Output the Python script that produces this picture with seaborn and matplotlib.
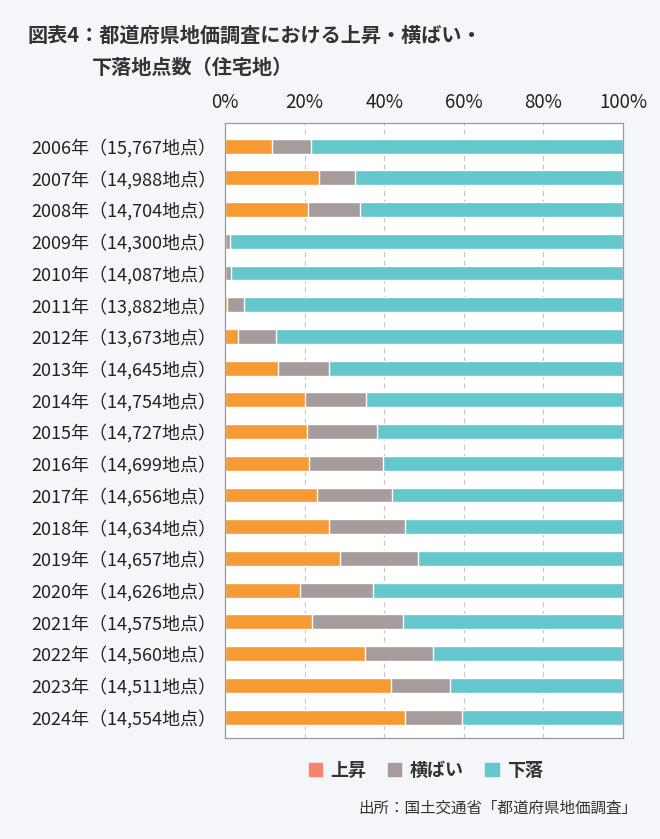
import pandas as pd
import seaborn as sns
import matplotlib.pyplot as plt
from matplotlib.patches import Patch

# data (percent of survey points)
years = ['2006', '2007', '2008', '2009', '2010', '2011', '2012', '2013', '2014', '2015',
         '2016', '2017', '2018', '2019', '2020', '2021', '2022', '2023', '2024']
points = ['15,767', '14,988', '14,704', '14,300', '14,087', '13,882', '13,673', '14,645', '14,754', '14,727',
          '14,699', '14,656', '14,634', '14,657', '14,626', '14,575', '14,560', '14,511', '14,554']
rise = [11.9, 23.6, 20.9, 0.0, 0.0, 0.4, 3.3, 13.4, 20.0, 20.7,
        21.1, 23.0, 26.0, 28.9, 18.9, 21.9, 35.1, 41.7, 45.1]
flat = [9.6, 9.1, 13.1, 1.3, 1.5, 4.4, 9.6, 12.7, 15.4, 17.5,
        18.6, 18.9, 19.3, 19.5, 18.2, 22.9, 17.1, 14.7, 14.4]
fall = [78.5, 67.3, 66.0, 98.7, 98.5, 95.2, 87.1, 73.9, 64.6, 61.8,
        60.3, 58.1, 54.7, 51.6, 62.9, 55.2, 47.8, 43.6, 40.5]

labels = [f'{y}年（{p}地点）' for y, p in zip(years, points)]
df = pd.DataFrame({'label': labels, 'rise': rise, 'flat': flat, 'fall': fall})
df['rise_flat'] = df['rise'] + df['flat']
df['total'] = df['rise_flat'] + df['fall']

c_rise = '#f79a33'
c_flat = '#a59c9b'
c_fall = '#64c7cd'
c_rise_legend = '#f4846c'
bg = '#f4f6f9'
txt = '#222222'

sns.set_theme(style='white')
plt.rcParams['font.family'] = ['Noto Sans CJK JP', 'DejaVu Sans']

fig = plt.figure(figsize=(6.6, 8.39), dpi=100, facecolor=bg)
ax = fig.add_axes([0.341, 0.1204, 0.603, 0.733])
ax.set_facecolor('white')

# stacked bars drawn as cumulative layers
sns.barplot(data=df, x='total', y='label', color=c_fall, width=0.47, ax=ax, saturation=1)
sns.barplot(data=df, x='rise_flat', y='label', color=c_flat, width=0.47, ax=ax, saturation=1)
sns.barplot(data=df, x='rise', y='label', color=c_rise, width=0.47, ax=ax, saturation=1)

ax.set_xlim(0, 100)
ax.set_ylim(18.66, -0.73)
ax.set_xticks([0, 20, 40, 60, 80, 100])
ax.set_xticklabels(['0%', '20%', '40%', '60%', '80%', '100%'])
ax.xaxis.tick_top()
ax.tick_params(axis='x', length=0, pad=7, labelsize=13.5, labelcolor=txt)
ax.tick_params(axis='y', length=0, pad=6, labelsize=13, labelcolor=txt)
ax.set_xlabel('')
ax.set_ylabel('')
for x in [20, 40, 60, 80]:
    ax.axvline(x, color='#c8c8c8', linestyle=(0, (4, 3)), linewidth=0.9, zorder=0)
for s in ax.spines.values():
    s.set_color('#9a9a9a')
    s.set_linewidth(0.9)

fig.text(0.042, 0.958, '図表4：都道府県地価調査における上昇・横ばい・', fontsize=14.5,
         fontweight='bold', color='#333333', va='center')
fig.text(0.139, 0.920, '下落地点数（住宅地）', fontsize=14.5,
         fontweight='bold', color='#333333', va='center')

handles = [Patch(color=c_rise_legend, label='上昇'),
           Patch(color=c_flat, label='横ばい'),
           Patch(color=c_fall, label='下落')]
leg = fig.legend(handles=handles, loc='center', bbox_to_anchor=(0.645, 0.082), ncol=3,
                 frameon=False, handlelength=0.75, handleheight=0.75, handletextpad=0.45,
                 columnspacing=1.2, prop={'size': 13, 'weight': 'bold'})
for t in leg.get_texts():
    t.set_color('#333333')

fig.text(0.965, 0.037, '出所：国土交通省「都道府県地価調査」', fontsize=11.2,
         color='#333333', ha='right', va='center')

plt.savefig('out.png', dpi=100, facecolor=bg)
